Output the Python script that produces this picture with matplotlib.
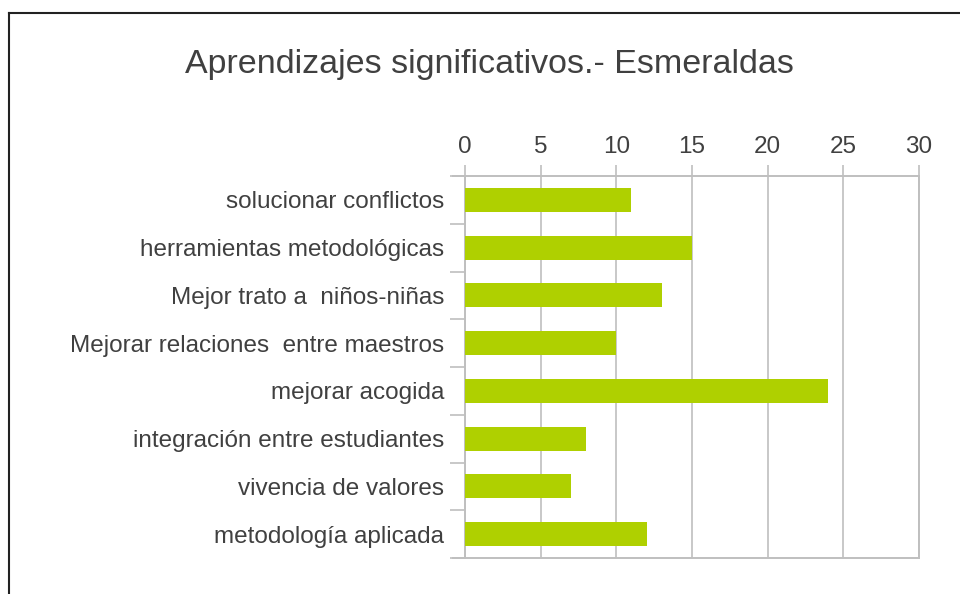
import numpy as np
import matplotlib.pyplot as plt
from matplotlib.lines import Line2D

plt.rcParams['font.family'] = ['Liberation Sans', 'DejaVu Sans']

# datos
categorias = ['solucionar conflictos', 'herramientas metodológicas', 'Mejor trato a  niños-niñas',
              'Mejorar relaciones  entre maestros', 'mejorar acogida', 'integración entre estudiantes',
              'vivencia de valores', 'metodología aplicada']
valores = [11, 15, 13, 10, 24, 8, 7, 12]
ticks_x = [0, 5, 10, 15, 20, 25, 30]

gris = '#bfbfbf'
texto = '#404040'

fig = plt.figure(figsize=(9.6, 5.94), dpi=100)
ax = fig.add_axes([465 / 960, 1 - 558 / 594, (919 - 465) / 960, (558 - 176) / 594])

y = np.arange(len(categorias))
ax.barh(y, valores, height=0.5, color='#afd000', zorder=3)
ax.set_ylim(len(categorias) - 0.5, -0.5)
ax.set_xlim(0, 30)

ax.xaxis.tick_top()
ax.set_xticks(ticks_x)
ax.set_xticklabels([str(t) for t in ticks_x], fontsize=17.5, color=texto)
ax.tick_params(axis='x', length=8, width=1.2, color=gris, pad=5)
ax.grid(axis='x', color=gris, linewidth=1.2, zorder=0)

ax.set_yticks(y)
ax.set_yticklabels(categorias, fontsize=17.5, color=texto)
ax.set_yticks(np.arange(len(categorias) + 1) - 0.5, minor=True)
ax.tick_params(axis='y', which='major', length=0, pad=15)
ax.tick_params(axis='y', which='minor', length=11, width=1.2, color=gris)

for s in ['left', 'top', 'bottom', 'right']:
    ax.spines[s].set_color(gris)
    ax.spines[s].set_linewidth(1.4)

# linea inferior y superior extendidas a la izquierda
fig.add_artist(Line2D([453 / 960, 465 / 960], [1 - 558 / 594] * 2, color=gris, lw=1.4))
fig.add_artist(Line2D([453 / 960, 465 / 960], [1 - 176 / 594] * 2, color=gris, lw=1.4))

fig.text(489 / 960, 1 - 65 / 594, 'Aprendizajes significativos.- Esmeraldas',
         fontsize=24.5, color=texto, ha='center', va='center')

# marco exterior
fig.add_artist(Line2D([9 / 960, 9 / 960], [0, 1 - 13 / 594], color='#222222', lw=1.5))
fig.add_artist(Line2D([9 / 960, 1], [1 - 13 / 594] * 2, color='#222222', lw=1.5))

fig.savefig('out.png', dpi=100)
